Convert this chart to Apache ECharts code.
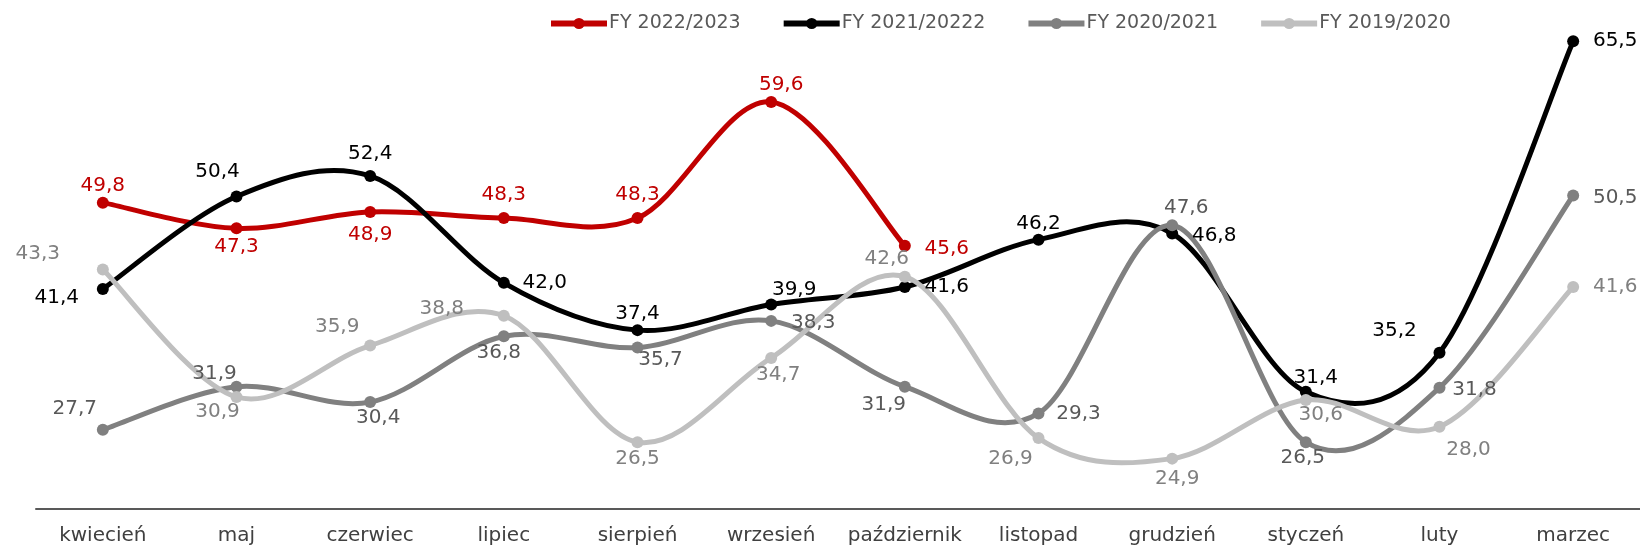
<!DOCTYPE html>
<html>
<head>
<meta charset="utf-8">
<script src="https://cdn.jsdelivr.net/npm/echarts@6/dist/echarts.min.js"></script>
<style>
  html, body { margin: 0; padding: 0; background: #fff; }
  #chart { width: 1640px; height: 549px; }
</style>
</head>
<body>
<div id="chart"></div>
<script>
const months = ['kwiecień', 'maj', 'czerwiec', 'lipiec', 'sierpień', 'wrzesień',
  'październik', 'listopad', 'grudzień', 'styczeń', 'luty', 'marzec'];

const fy2223 = [49.8, 47.3, 48.9, 48.3, 48.3, 59.6, 45.6, null, null, null, null, null];
const fy2122 = [41.4, 50.4, 52.4, 42.0, 37.4, 39.9, 41.6, 46.2, 46.8, 31.4, 35.2, 65.5];
const fy2021 = [27.7, 31.9, 30.4, 36.8, 35.7, 38.3, 31.9, 29.3, 47.6, 26.5, 31.8, 50.5];
const fy1920 = [43.3, 30.9, 35.9, 38.8, 26.5, 34.7, 42.6, 26.9, 24.9, 30.6, 28.0, 41.6];

// przesunięcia etykiet względem punktu [dx, dy]
const off2223 = [[0, -17], [0, 18], [0, 23], [0, -23], [0, -23], [10, -17], [42, 3]];
const off2122 = [[-46, 9], [-19, -25], [0, -22], [41, 0], [0, -16], [23, -15],
  [42, 0], [0, -16], [42, 2], [10, -14], [-45, -22], [42, 0]];
const off2021 = [[-28, -21], [-22, -13], [8, 16], [-5, 17], [23, 12], [42, 2],
  [-21, 18], [40, 0], [14, -17], [-3, 16], [35, 2], [42, 2]];
const off1920 = [[-65, -16], [-19, 15], [-33, -19], [-62, -7], [0, 17], [7, 17],
  [-18, -18], [-28, 21], [5, 20], [15, 15], [29, 23], [42, 0]];

const FONT = '"DejaVu Sans", sans-serif';
const LINE_W = 5;

// wygładzona linia jak w Excelu (Catmull-Rom -> Bezier), punkty przez api.coord
const curveSeries = (values, color) => ({
  type: 'custom',
  silent: true,
  coordinateSystem: 'cartesian2d',
  data: [[0, values[0]]],
  renderItem: (params, api) => {
    const pts = [];
    values.forEach((v, i) => {
      if (v !== null) pts.push(api.coord([i, v]));
    });
    let d = `M${pts[0][0]},${pts[0][1]}`;
    for (let i = 0; i < pts.length - 1; i++) {
      const p0 = pts[Math.max(i - 1, 0)];
      const p1 = pts[i];
      const p2 = pts[i + 1];
      const p3 = pts[Math.min(i + 2, pts.length - 1)];
      const c1x = p1[0] + (p2[0] - p0[0]) / 6;
      const c1y = p1[1] + (p2[1] - p0[1]) / 6;
      const c2x = p2[0] - (p3[0] - p1[0]) / 6;
      const c2y = p2[1] - (p3[1] - p1[1]) / 6;
      d += ` C${c1x},${c1y} ${c2x},${c2y} ${p2[0]},${p2[1]}`;
    }
    return {
      type: 'path',
      shape: { pathData: d },
      style: { fill: 'none', stroke: color, lineWidth: LINE_W, lineCap: 'round', lineJoin: 'round' },
    };
  },
});

const pointSeries = (name, values, offsets, color, labelColor) => ({
  name,
  type: 'line',
  symbol: 'circle',
  symbolSize: 12,
  lineStyle: { color, width: LINE_W, opacity: 0 },
  itemStyle: { color },
  data: values.map((v, i) => ({
    value: v,
    label: {
      show: v !== null,
      position: 'inside',
      offset: offsets[i] || [0, -16],
      align: 'center',
      verticalAlign: 'middle',
      color: labelColor,
      fontSize: 20,
      fontFamily: FONT,
      formatter: (p) => p.value.toFixed(1).replace('.', ','),
    },
  })),
});

const chart = echarts.init(document.getElementById('chart'));
chart.setOption({
  animation: false,
  legend: {
    top: 9,
    left: 543,
    itemWidth: 56,
    itemHeight: 14,
    itemGap: 40,
    lineStyle: { opacity: 1, width: 6 },
    textStyle: { color: '#595959', fontSize: 19, fontFamily: FONT, padding: [0, 0, 0, -3] },
    data: ['FY 2022/2023', 'FY 2021/20222', 'FY 2020/2021', 'FY 2019/2020'],
  },
  grid: {
    left: 36,
    right: 0,
    top: -5,
    bottom: 40,
    outerBoundsMode: 'none',
  },
  xAxis: {
    type: 'category',
    data: months,
    boundaryGap: true,
    axisTick: { show: false },
    axisLine: { lineStyle: { color: '#595959', width: 2 } },
    axisLabel: { color: '#404040', fontSize: 20, fontFamily: FONT, margin: 17, interval: 0 },
  },
  yAxis: {
    type: 'value',
    min: 20,
    max: 70,
    show: false,
    splitLine: { show: false },
  },
  series: [
    curveSeries(fy2223, '#C00000'),
    pointSeries('FY 2022/2023', fy2223, off2223, '#C00000', '#C00000'),
    curveSeries(fy2122, '#000000'),
    pointSeries('FY 2021/20222', fy2122, off2122, '#000000', '#000000'),
    curveSeries(fy2021, '#808080'),
    pointSeries('FY 2020/2021', fy2021, off2021, '#808080', '#595959'),
    curveSeries(fy1920, '#BFBFBF'),
    pointSeries('FY 2019/2020', fy1920, off1920, '#BFBFBF', '#808080'),
  ],
});
</script>
</body>
</html>
